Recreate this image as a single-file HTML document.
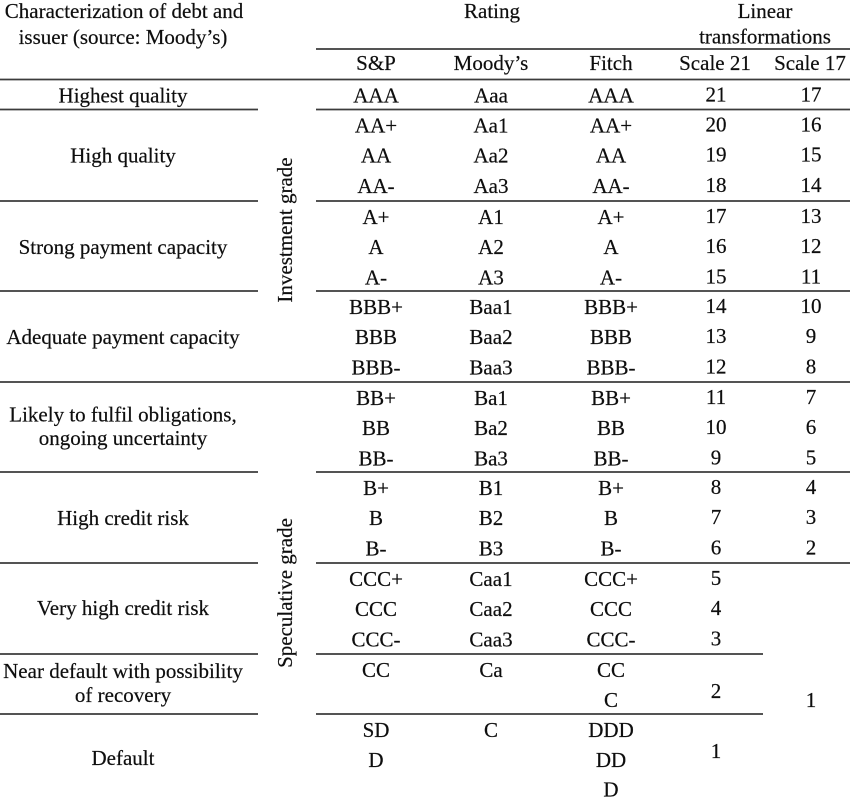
<!DOCTYPE html>
<html>
<head>
<meta charset="utf-8">
<style>
html,body{margin:0;padding:0;background:#fff;}
svg{display:block;}
svg text{font-family:"Liberation Serif",serif;font-size:21px;fill:#0e0e0e;stroke:#0e0e0e;stroke-width:0.2px;}
</style>
</head>
<body>
<svg width="850" height="800" viewBox="0 0 850 800" xmlns="http://www.w3.org/2000/svg" font-family="Liberation Serif, serif" font-size="21">
<g stroke="#3c3c3c" stroke-width="1.8">
<line x1="316" y1="49" x2="850" y2="49"/>
<line x1="0" y1="79.5" x2="850" y2="79.5"/>
<line x1="0" y1="109.5" x2="258" y2="109.5"/><line x1="316" y1="109.5" x2="850" y2="109.5"/>
<line x1="0" y1="201" x2="258" y2="201"/><line x1="316" y1="201" x2="850" y2="201"/>
<line x1="0" y1="291" x2="258" y2="291"/><line x1="316" y1="291" x2="850" y2="291"/>
<line x1="0" y1="382" x2="850" y2="382"/>
<line x1="0" y1="472" x2="258" y2="472"/><line x1="316" y1="472" x2="850" y2="472"/>
<line x1="0" y1="563" x2="258" y2="563"/><line x1="316" y1="563" x2="850" y2="563"/>
<line x1="0" y1="654" x2="258" y2="654"/><line x1="316" y1="654" x2="763" y2="654"/>
<line x1="0" y1="714" x2="258" y2="714"/><line x1="316" y1="714" x2="763" y2="714"/>
</g>
<g text-anchor="middle">
<!-- headers -->
<text x="124" y="18">Characterization of debt and</text>
<text x="123" y="44">issuer (source: Moody’s)</text>
<text x="492" y="18">Rating</text>
<text x="765" y="18">Linear</text>
<text x="765" y="43.5">transformations</text>
<text x="376" y="70">S&amp;P</text>
<text x="491" y="70">Moody’s</text>
<text x="611" y="70">Fitch</text>
<text x="715" y="70">Scale 21</text>
<text x="810" y="70">Scale 17</text>

<!-- left labels -->
<text x="123" y="102.5">Highest quality</text>
<text x="123" y="162.5">High quality</text>
<text x="123" y="253.8">Strong payment capacity</text>
<text x="123" y="343.8">Adequate payment capacity</text>
<text x="123" y="421.7">Likely to fulfil obligations,</text>
<text x="123" y="445.2">ongoing uncertainty</text>
<text x="123" y="525">High credit risk</text>
<text x="123" y="615">Very high credit risk</text>
<text x="123" y="678">Near default with possibility</text>
<text x="123" y="702">of recovery</text>
<text x="123" y="765">Default</text>

<!-- S&P -->
<text x="376" y="102.5">AAA</text>
<text x="376" y="132.5">AA+</text>
<text x="376" y="162.7">AA</text>
<text x="376" y="192.9">AA-</text>
<text x="376" y="224">A+</text>
<text x="376" y="254.2">A</text>
<text x="376" y="284.4">A-</text>
<text x="376" y="314">BBB+</text>
<text x="376" y="344.2">BBB</text>
<text x="376" y="374.4">BBB-</text>
<text x="376" y="405">BB+</text>
<text x="376" y="435.2">BB</text>
<text x="376" y="465.4">BB-</text>
<text x="376" y="495">B+</text>
<text x="376" y="525.2">B</text>
<text x="376" y="555.4">B-</text>
<text x="376" y="586">CCC+</text>
<text x="376" y="616.2">CCC</text>
<text x="376" y="646.4">CCC-</text>
<text x="376" y="677">CC</text>
<text x="376" y="737">SD</text>
<text x="376" y="767">D</text>

<!-- Moody's -->
<text x="491" y="102.5">Aaa</text>
<text x="491" y="132.5">Aa1</text>
<text x="491" y="162.7">Aa2</text>
<text x="491" y="192.9">Aa3</text>
<text x="491" y="224">A1</text>
<text x="491" y="254.2">A2</text>
<text x="491" y="284.4">A3</text>
<text x="491" y="314">Baa1</text>
<text x="491" y="344.2">Baa2</text>
<text x="491" y="374.4">Baa3</text>
<text x="491" y="405">Ba1</text>
<text x="491" y="435.2">Ba2</text>
<text x="491" y="465.4">Ba3</text>
<text x="491" y="495">B1</text>
<text x="491" y="525.2">B2</text>
<text x="491" y="555.4">B3</text>
<text x="491" y="586">Caa1</text>
<text x="491" y="616.2">Caa2</text>
<text x="491" y="646.4">Caa3</text>
<text x="491" y="677">Ca</text>
<text x="491" y="737">C</text>

<!-- Fitch -->
<text x="611" y="102.5">AAA</text>
<text x="611" y="132.5">AA+</text>
<text x="611" y="162.7">AA</text>
<text x="611" y="192.9">AA-</text>
<text x="611" y="224">A+</text>
<text x="611" y="254.2">A</text>
<text x="611" y="284.4">A-</text>
<text x="611" y="314">BBB+</text>
<text x="611" y="344.2">BBB</text>
<text x="611" y="374.4">BBB-</text>
<text x="611" y="405">BB+</text>
<text x="611" y="435.2">BB</text>
<text x="611" y="465.4">BB-</text>
<text x="611" y="495">B+</text>
<text x="611" y="525.2">B</text>
<text x="611" y="555.4">B-</text>
<text x="611" y="586">CCC+</text>
<text x="611" y="616.2">CCC</text>
<text x="611" y="646.4">CCC-</text>
<text x="611" y="677">CC</text>
<text x="611" y="707">C</text>
<text x="611" y="737">DDD</text>
<text x="611" y="767">DD</text>
<text x="611" y="796.5">D</text>

<!-- Scale 21 -->
<text x="716" y="101.5">21</text>
<text x="716" y="131.5">20</text>
<text x="716" y="161.7">19</text>
<text x="716" y="191.9">18</text>
<text x="716" y="223">17</text>
<text x="716" y="253.2">16</text>
<text x="716" y="283.4">15</text>
<text x="716" y="313">14</text>
<text x="716" y="343.2">13</text>
<text x="716" y="373.4">12</text>
<text x="716" y="404">11</text>
<text x="716" y="434.2">10</text>
<text x="716" y="464.4">9</text>
<text x="716" y="494">8</text>
<text x="716" y="524.2">7</text>
<text x="716" y="554.4">6</text>
<text x="716" y="585">5</text>
<text x="716" y="615.2">4</text>
<text x="716" y="645.4">3</text>
<text x="716" y="698">2</text>
<text x="716" y="758">1</text>

<!-- Scale 17 -->
<text x="811" y="101.5">17</text>
<text x="811" y="131.5">16</text>
<text x="811" y="161.7">15</text>
<text x="811" y="191.9">14</text>
<text x="811" y="223">13</text>
<text x="811" y="253.2">12</text>
<text x="811" y="283.4">11</text>
<text x="811" y="313">10</text>
<text x="811" y="343.2">9</text>
<text x="811" y="373.4">8</text>
<text x="811" y="404">7</text>
<text x="811" y="434.2">6</text>
<text x="811" y="464.4">5</text>
<text x="811" y="494">4</text>
<text x="811" y="524.2">3</text>
<text x="811" y="554.4">2</text>
<text x="811" y="707">1</text>

<!-- vertical labels -->
<text transform="translate(292,230) rotate(-90)">Investment grade</text>
<text transform="translate(292,593) rotate(-90)">Speculative grade</text>
</g>
</svg>
</body>
</html>
